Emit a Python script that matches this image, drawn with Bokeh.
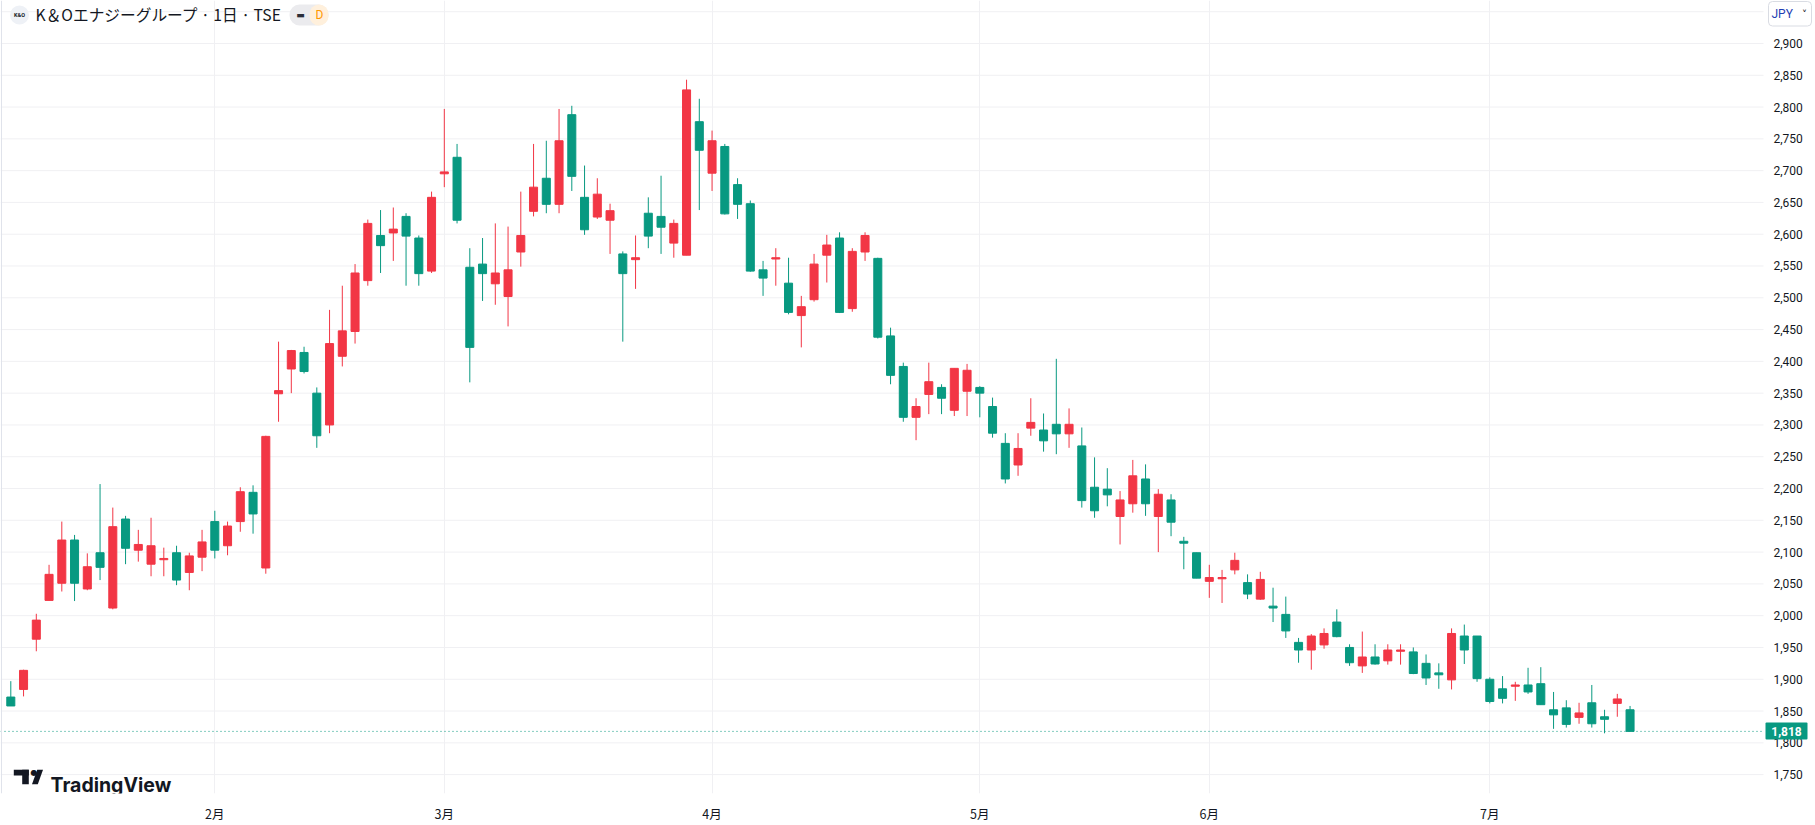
from bokeh.plotting import figure
from bokeh.models import (Range1d, FixedTicker, Label, ColumnDataSource,
                          BoxAnnotation, PolyAnnotation, Span)
from bokeh.core.properties import value
from bokeh.embed import file_html
from bokeh.resources import INLINE

# ---------------- data ----------------
opens = [1872, 1884, 1963, 2024, 2051, 2119, 2042, 2099, 2012, 2152,
         2103, 2081, 2088, 2099, 2068, 2092, 2148, 2110, 2148, 2194,
         2075, 2349, 2388, 2414, 2350, 2300, 2408, 2447, 2527, 2598,
         2602, 2628, 2594, 2542, 2695, 2721, 2548, 2553, 2522, 2502,
         2572, 2636, 2688, 2647, 2788, 2658, 2627, 2622, 2569, 2560,
         2633, 2628, 2586, 2567, 2777, 2696, 2738, 2678, 2648, 2544,
         2561, 2523, 2472, 2497, 2567, 2594, 2483, 2572, 2562, 2440,
         2392, 2312, 2348, 2359, 2323, 2353, 2359, 2329, 2271, 2237,
         2295, 2292, 2301, 2286, 2267, 2202, 2199, 2156, 2176, 2215,
         2156, 2182, 2117, 2099, 2054, 2058, 2072, 2052, 2026, 2015,
         2002, 1958, 1946, 1954, 1990, 1950, 1921, 1935, 1929, 1944,
         1943, 1925, 1910, 1899, 1968, 1968, 1900, 1885, 1889, 1891,
         1893, 1852, 1855, 1840, 1863, 1841, 1862, 1852]
highs = [1897, 1915, 2003, 2080, 2148, 2127, 2098, 2207, 2170, 2157,
         2135, 2154, 2107, 2110, 2099, 2135, 2165, 2148, 2202, 2205,
         2283, 2431, 2418, 2423, 2359, 2481, 2519, 2553, 2623, 2638,
         2642, 2633, 2598, 2667, 2797, 2742, 2578, 2594, 2617, 2612,
         2667, 2742, 2747, 2797, 2802, 2708, 2688, 2648, 2573, 2598,
         2658, 2692, 2623, 2843, 2813, 2763, 2742, 2688, 2653, 2558,
         2578, 2563, 2503, 2569, 2599, 2603, 2578, 2603, 2563, 2453,
         2398, 2342, 2398, 2364, 2389, 2396, 2361, 2343, 2287, 2287,
         2342, 2318, 2404, 2326, 2296, 2249, 2232, 2196, 2245, 2238,
         2199, 2191, 2124, 2099, 2080, 2072, 2099, 2065, 2069, 2044,
         2030, 1965, 1971, 1980, 2010, 1955, 1975, 1955, 1955, 1955,
         1950, 1939, 1925, 1980, 1986, 1968, 1903, 1905, 1896, 1918,
         1919, 1880, 1867, 1863, 1891, 1852, 1877, 1858]
lows = [1858, 1873, 1944, 2024, 2038, 2023, 2040, 2056, 2010, 2081,
        2085, 2062, 2062, 2048, 2040, 2070, 2090, 2095, 2132, 2129,
        2066, 2305, 2350, 2381, 2264, 2287, 2392, 2428, 2519, 2539,
        2558, 2519, 2519, 2539, 2674, 2617, 2367, 2495, 2489, 2455,
        2549, 2628, 2633, 2633, 2668, 2599, 2624, 2569, 2431, 2514,
        2578, 2569, 2563, 2567, 2638, 2668, 2631, 2624, 2541, 2503,
        2519, 2474, 2422, 2494, 2524, 2476, 2478, 2558, 2436, 2364,
        2305, 2276, 2317, 2317, 2314, 2314, 2312, 2280, 2208, 2220,
        2283, 2258, 2254, 2264, 2170, 2154, 2172, 2112, 2162, 2157,
        2100, 2125, 2073, 2059, 2028, 2020, 2065, 2026, 2025, 1990,
        1965, 1926, 1915, 1948, 1966, 1921, 1910, 1923, 1923, 1923,
        1908, 1891, 1885, 1884, 1924, 1896, 1862, 1862, 1866, 1877,
        1860, 1822, 1824, 1830, 1824, 1815, 1841, 1818]
closes = [1858, 1914, 1993, 2065, 2119, 2051, 2077, 2076, 2140, 2106,
          2112, 2110, 2090, 2056, 2094, 2116, 2103, 2141, 2195, 2160,
          2282, 2354, 2417, 2384, 2283, 2428, 2448, 2539, 2617, 2582,
          2608, 2597, 2538, 2658, 2698, 2622, 2422, 2538, 2539, 2544,
          2598, 2674, 2647, 2747, 2691, 2607, 2663, 2637, 2538, 2563,
          2597, 2611, 2617, 2827, 2732, 2747, 2632, 2647, 2542, 2531,
          2563, 2477, 2486, 2553, 2583, 2477, 2573, 2598, 2438, 2378,
          2312, 2329, 2368, 2342, 2389, 2386, 2350, 2287, 2215, 2263,
          2304, 2275, 2286, 2301, 2181, 2165, 2190, 2182, 2220, 2176,
          2191, 2147, 2114, 2059, 2060, 2060, 2087, 2034, 2057, 2012,
          1976, 1946, 1968, 1972, 1967, 1926, 1935, 1924, 1946, 1946,
          1909, 1902, 1907, 1972, 1946, 1901, 1865, 1870, 1891, 1880,
          1860, 1844, 1829, 1847, 1830, 1837, 1869, 1818]

month_ticks = [16, 34, 55, 76, 94, 116]
month_labels = ["2月", "3月", "4月", "5月", "6月", "7月"]
price_ticks = list(range(1750, 2951, 50))
price_labels_shown = list(range(1750, 2901, 50))
last_price = 1818
title_text = "K＆Oエナジーグループ · 1日 · TSE"

# ---------------- style / layout constants ----------------
UP = "#F23645"
DOWN = "#089981"
TXT = "#131722"
GRID = "#f0f0f3"
W, H = 1815, 825
FH = 797                 # height of the chart pane
PANE_R = 1763            # right edge of the chart pane (price scale to the right)
BAR_PX = 12.75           # pixels per bar
X0 = -10.3 / BAR_PX      # bar index at the left edge
X1 = X0 + W / BAR_PX
Y0, Y1 = 1720.3, 2967.6


def xd(px):
    """screen x (pixels) -> bar-index coordinate"""
    return X0 + px / BAR_PX


def sy(page_y):
    """page y (from top) -> screen y measured from pane bottom"""
    return FH - page_y


n = len(opens)
src = ColumnDataSource(dict(
    x=list(range(n)),
    high=highs, low=lows,
    top=[max(o, c) for o, c in zip(opens, closes)],
    bottom=[min(o, c) for o, c in zip(opens, closes)],
    color=[UP if c >= o else DOWN for o, c in zip(opens, closes)],
))

p = figure(width=W, height=H, x_range=Range1d(X0, X1), y_range=Range1d(Y0, Y1),
           output_backend="svg", toolbar_location=None, y_axis_location=None,
           min_border_left=0, min_border_top=0, min_border_right=0, min_border_bottom=H - FH)
p.outline_line_color = None
p.background_fill_color = "white"
p.border_fill_color = "white"

# vertical month grid
p.xgrid.ticker = FixedTicker(ticks=month_ticks)
p.xgrid.grid_line_color = GRID
p.ygrid.visible = False

# horizontal price grid (stops at the price scale)
grid_src = ColumnDataSource(dict(y=price_ticks, x0=[xd(0)] * len(price_ticks),
                                 x1=[xd(PANE_R)] * len(price_ticks)))
p.segment(x0="x0", x1="x1", y0="y", y1="y", line_color=GRID, line_width=1,
          source=grid_src, level="underlay")

# left border of the pane
p.add_layout(Span(location=1, location_units="screen", dimension="height",
                  line_color="#e0e3eb", line_width=1))

# candles
p.segment(x0="x", y0="high", x1="x", y1="low", line_color="color", line_width=1, source=src)
p.vbar(x="x", width=0.63, top="top", bottom="bottom", fill_color="color",
       line_color="color", line_width=1, source=src)

# last price dotted line
p.segment(x0=[xd(0)], x1=[xd(PANE_R)], y0=[last_price], y1=[last_price],
          line_color=DOWN, line_width=1, line_dash="1 3")

# price scale labels
lab_src = ColumnDataSource(dict(y=price_labels_shown,
                                x=[xd(1773)] * len(price_labels_shown),
                                t=[f"{v:,}" for v in price_labels_shown]))
p.text(x="x", y="y", text="t", source=lab_src, text_font=value("Roboto"),
       text_font_size=value("12px"), text_color=TXT, text_align="left",
       text_baseline="middle")

# time axis
xa = p.xaxis[0]
xa.ticker = FixedTicker(ticks=month_ticks)
xa.major_label_overrides = {t: l for t, l in zip(month_ticks, month_labels)}
xa.axis_line_color = None
xa.major_tick_line_color = None
xa.minor_tick_line_color = None
xa.major_tick_out = 0
xa.major_tick_in = 0
xa.major_label_standoff = 10
xa.major_label_text_font = "Noto Sans CJK JP"
xa.major_label_text_font_size = "12.5px"
xa.major_label_text_color = TXT


def box(left, right, top, bottom, fill, line=None, radius=None):
    b = BoxAnnotation(left=left, right=right, top=top, bottom=bottom,
                      left_units="screen", right_units="screen",
                      top_units="screen", bottom_units="screen",
                      fill_color=fill, fill_alpha=1, line_color=line, line_alpha=1,
                      line_width=1)
    if radius is not None and "border_radius" in BoxAnnotation.properties():
        b.border_radius = int(round(radius))
    p.add_layout(b)


def label(x, y, text, font, size, color, align="left", baseline="middle", style="normal",
          y_units="screen"):
    p.add_layout(Label(x=x, y=y, x_units="screen", y_units=y_units, text=text,
                       text_font=font, text_font_size=size, text_color=color,
                       text_font_style=style, text_align=align, text_baseline=baseline))


# last price tag
box(1765, 1807, sy(726), sy(743), DOWN, radius=1)
label(1786, last_price, f"{last_price:,}", "Roboto", "12px", "white", align="center",
      style="bold", y_units="data")

# currency box
box(1768, 1811, sy(5), sy(29.5), "white", line="#d9dce3", radius=4)
label(1771, sy(17.3), "JPY", "Roboto", "12px", "#1f3fb3")
label(1804, sy(17.5), "˅", "DejaVu Sans", "10px", TXT, align="center")

# header: logo, title, status badge
box(9.5, 28.5, sy(9), sy(28), "#eef1f6", radius=10)
label(19, sy(18.5), "K&O", "Roboto", "5.5px", TXT, align="center", style="bold")
label(35, sy(18.3), title_text, "Noto Sans CJK JP", "15.7px", TXT)
box(289, 328, sy(8), sy(29), "#ebebee", radius=10)
box(309, 328, sy(8), sy(29), "#fff0dc", radius=10)
label(300, sy(18.3), "▬", "DejaVu Sans", "9px", "#2a2e39", align="center")
label(319, sy(18.3), "D", "Roboto", "12px", "#ff9800", align="center")

# TradingView logo
box(13.3, 28.3, sy(773.3), sy(779), TXT)
box(21.7, 28.3, sy(773.3), sy(787.7), TXT)
p.add_layout(PolyAnnotation(xs=[31.5, 37.3, 42.5, 36.7], ys=[sy(787.7), sy(787.7), sy(773.3), sy(773.3)],
                            xs_units="screen", ys_units="screen",
                            fill_color=TXT, fill_alpha=1, line_color=None))
label(33.5, sy(776.3), "●", "DejaVu Sans", "8px", TXT, align="center")
label(50, sy(788), "TradingView", "Inter", "19.5px", TXT, baseline="alphabetic", style="bold")

open("out.html", "w").write(file_html(p, INLINE))
